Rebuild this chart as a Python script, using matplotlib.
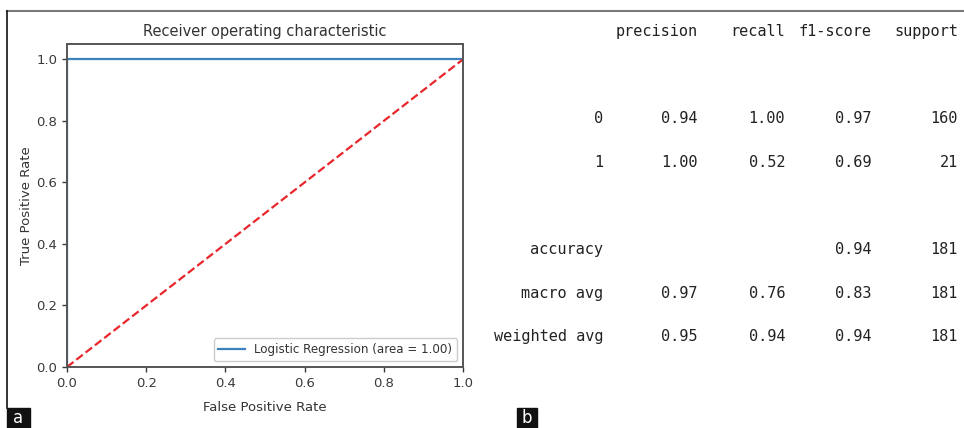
import numpy as np
import matplotlib
matplotlib.use('Agg')
import matplotlib.pyplot as plt
from matplotlib.lines import Line2D
from matplotlib.patches import Rectangle

# ROC curve points (perfect classifier) and chance diagonal
fpr = [0.0, 0.0, 1.0]
tpr = [0.0, 1.0, 1.0]
chance = [0.0, 1.0]
roc_auc = 1.00

# classification report
report_cols = ['precision', 'recall', 'f1-score', 'support']
report_rows = ['0', '1', 'accuracy', 'macro avg', 'weighted avg']
report_lines = [2, 3, 5, 6, 7]          # printed line numbers (header is line 0)
precision = ['0.94', '1.00', '', '0.97', '0.95']
recall = ['1.00', '0.52', '', '0.76', '0.94']
f1_score = ['0.97', '0.69', '0.94', '0.83', '0.94']
support = ['160', '21', '181', '181', '181']

W, H = 964, 428
fig = plt.figure(figsize=(W / 100, H / 100), dpi=100)


def fx(px):
    return px / W


def fy(py):
    return 1 - py / H


# panel a: ROC
ax = fig.add_axes([fx(67), fy(367), fx(463) - fx(67), fy(44) - fy(367)])
ax.plot(fpr, tpr, color='#3d82bd', lw=1.6,
        label='Logistic Regression (area = %0.2f)' % roc_auc)
ax.plot(chance, chance, '--', color='#e8262b', lw=1.6)
ax.set_xlim([0.0, 1.0])
ax.set_ylim([0.0, 1.05])
ax.set_xticks(np.arange(0, 1.01, 0.2))
ax.set_yticks(np.arange(0, 1.01, 0.2))
ax.tick_params(labelsize=9.5, colors='#3a3a3a', length=3.5, width=1)
ax.set_xlabel('False Positive Rate', fontsize=9.5, color='#333333', labelpad=8)
ax.set_ylabel('True Positive Rate', fontsize=9.5, color='#333333', labelpad=2)
ax.set_title('Receiver operating characteristic', fontsize=10.5, color='#333333', pad=6)
for s in ax.spines.values():
    s.set_color('#555555')
    s.set_linewidth(1.4)
leg = ax.legend(loc='lower right', fontsize=8.6, framealpha=1, handlelength=2.2)
leg.get_frame().set_edgecolor('#cccccc')
for t in leg.get_texts():
    t.set_color('#333333')

# panel b: classification report, laid out in pixel units
rx = fig.add_axes([fx(480), 0, 1 - fx(480), 1])
rx.set_xlim(480, W)
rx.set_ylim(H, 0)
rx.axis('off')

col_right = [698, 785, 871, 958]
label_right = 603
line_y0, line_dy = 31, 43.7
mono = dict(family='DejaVu Sans Mono', fontsize=11, color='#222222', va='center', ha='right')

for name, xr in zip(report_cols, col_right):
    rx.text(xr, line_y0, name, **mono)
for i, row in enumerate(report_rows):
    y = line_y0 + report_lines[i] * line_dy
    rx.text(label_right, y, row, **mono)
    for vals, xr in zip([precision, recall, f1_score, support], col_right):
        if vals[i]:
            rx.text(xr, y, vals[i], **mono)

# frame lines and panel tags
fig.add_artist(Line2D([fx(7), 1], [fy(11), fy(11)], color='#7a7a7a', lw=1.5))
fig.add_artist(Line2D([fx(7), fx(7)], [fy(11), fy(408)], color='#111111', lw=1.2))
for tag, x0, x1 in [('a', 7, 30), ('b', 517, 537)]:
    fig.add_artist(Rectangle((fx(x0), 0), fx(x1) - fx(x0), fy(408),
                             transform=fig.transFigure, color='#111111'))
    fig.text((fx(x0) + fx(x1)) / 2, fy(418), tag, color='white', fontsize=12,
             ha='center', va='center')

fig.savefig('out.png', dpi=100)
